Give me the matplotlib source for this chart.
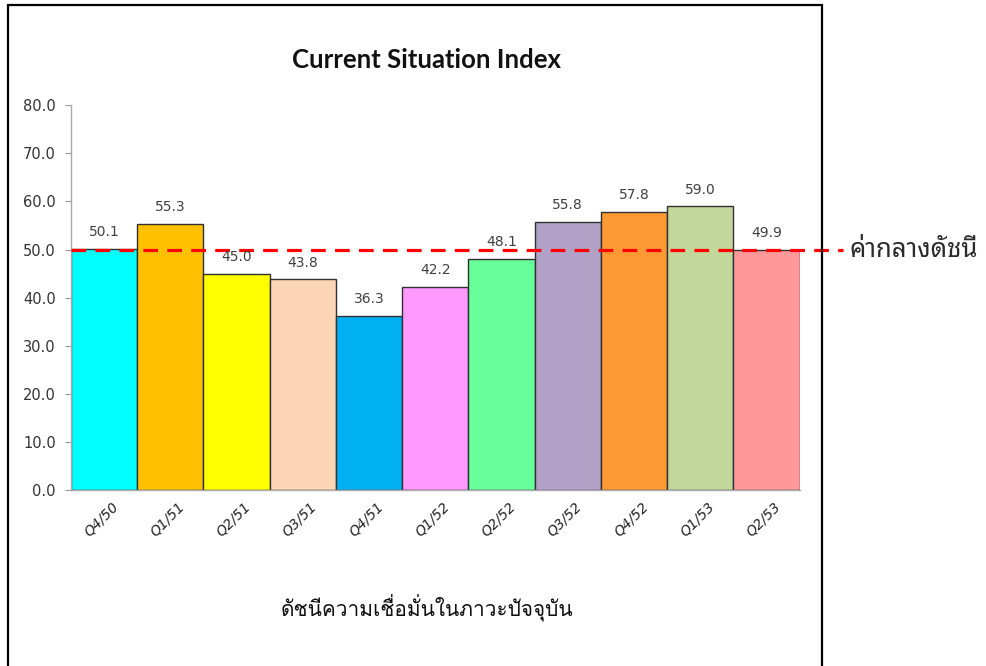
import matplotlib
matplotlib.use("Agg")
import matplotlib.pyplot as plt
import matplotlib.patches as patches
import matplotlib.transforms as mtransforms

# Data
quarters = ['Q4/50', 'Q1/51', 'Q2/51', 'Q3/51', 'Q4/51', 'Q1/52',
            'Q2/52', 'Q3/52', 'Q4/52', 'Q1/53', 'Q2/53']
index_values = [50.1, 55.3, 45.0, 43.8, 36.3, 42.2, 48.1, 55.8, 57.8, 59.0, 49.9]
bar_colors = ['#00FFFF', '#FFC000', '#FFFF00', '#FCD5B4', '#00B0F0', '#FF99FF',
              '#66FF99', '#B2A1C7', '#FF9933', '#C4D79B', '#FF9999']
midpoint = 50.0
y_ticks = [0, 10, 20, 30, 40, 50, 60, 70, 80]

title = 'Current Situation Index'
x_title = 'ดัชนีความเชื่อมั่นในภาวะปัจจุบัน'
mid_label = 'ค่ากลางดัชนี'

plt.rcParams['font.family'] = ['Lato', 'DejaVu Sans']

fig = plt.figure(figsize=(9.86, 6.66), dpi=100)
ax = fig.add_axes([0.072, 0.264, 0.739, 0.578])

x = range(len(quarters))
ax.bar(x, index_values, width=1.0, color=bar_colors, edgecolor='#303030',
       linewidth=1.0, zorder=2)

# value labels above each bar
for xi, v in zip(x, index_values):
    ax.annotate(f'{v:.1f}', xy=(xi, v), xytext=(0, 7), textcoords='offset points',
                ha='center', va='bottom', fontsize=10, color='#404040',
                family=['DejaVu Sans'], zorder=4)

# midpoint reference line runs past the plot up to the label
ax.plot([-0.5, 11.15], [midpoint, midpoint], color='#FF0000', lw=2.3,
        dashes=(4.6, 2.9), clip_on=False, zorder=3)
ax.annotate(mid_label, xy=(11.15, midpoint), xytext=(5, -1), textcoords='offset points',
            ha='left', va='center', fontsize=18.5, color='#2A2A2A',
            family=['Noto Sans Thai Looped', 'DejaVu Sans'], annotation_clip=False)

ax.set_xlim(-0.5, 10.5)
ax.set_ylim(0, 80)
ax.set_yticks(y_ticks)
ax.set_yticklabels([f'{t:.1f}' for t in y_ticks], family=['DejaVu Sans'],
                   fontsize=10.5, color='#333333')
ax.set_xticks(list(x))
ax.set_xticklabels(quarters, rotation=45, ha='right', va='top', rotation_mode='anchor',
                   family=['DejaVu Sans'], fontsize=10, style='italic', color='#222222')
ax.tick_params(axis='x', length=0, pad=9)
ax.tick_params(axis='y', length=4, color='#999999', pad=7)

# nudge rotated labels so their ends sit right of the bar centre, as in Excel
shift = mtransforms.ScaledTranslation(7 / 100, 3 / 100, fig.dpi_scale_trans)
for lbl in ax.get_xticklabels():
    lbl.set_transform(lbl.get_transform() + shift)

for side in ['top', 'right']:
    ax.spines[side].set_visible(False)
for side in ['left', 'bottom']:
    ax.spines[side].set_color('#AAAAAA')
    ax.spines[side].set_linewidth(1.0)

fig.text(0.433, 0.91, title, ha='center', va='center', fontsize=18.5,
         fontweight='bold', color='#111111')
fig.text(0.433, 0.087, x_title, ha='center', va='center', fontsize=15,
         color='#111111', family=['Loma', 'DejaVu Sans'])

# outer chart frame (bottom edge runs off the image)
frame = patches.Rectangle((0.008, -0.02), 0.826, 1.012, transform=fig.transFigure,
                          fill=False, edgecolor='black', linewidth=1.6)
fig.patches.append(frame)

fig.savefig('out.png', dpi=100)
